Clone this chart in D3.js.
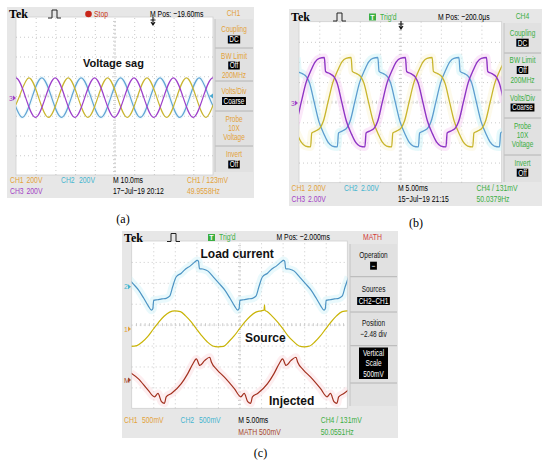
<!DOCTYPE html>
<html><head><meta charset="utf-8">
<script src="https://cdn.jsdelivr.net/npm/d3@7"></script>
<style>body{margin:0;background:#fff}svg{display:block}</style>
</head><body>
<svg id="c" width="550" height="461"></svg>
<script>
// ---------------- DATA (time in ms, amplitude in divisions) ----------------
// Panel (a): three-phase voltage, 10.0 ms/div
const aCh1 = [[-3.5,-1],[1.5,0],[6.5,1],[11.5,0],[16.5,-1],[21.5,0],[26.5,1],[31.5,0],[36.5,-1],[41.5,0],[46.5,1],[51.5,0],[56.5,-1],[61.5,0],[66.5,1],[71.5,0],[76.5,-1],[81.5,0],[86.5,1],[91.5,0],[96.5,-1],[101.5,0],[106.5,1]];
const aCh2 = [[-6.9,1],[-1.9,0],[3.1,-1],[8.1,0],[13.1,1],[18.1,0],[23.1,-1],[28.1,0],[33.1,1],[38.1,0],[43.1,-1],[48.1,0],[53.1,1],[58.1,0],[63.1,-1],[68.1,0],[73.1,1],[78.1,0],[83.1,-1],[88.1,0],[93.1,1],[98.1,0],[103.1,-1]];
const aCh3 = [[-5.1,0],[-0.1,1],[4.9,0],[9.9,-1],[14.9,0],[19.9,1],[24.9,0],[29.9,-1],[34.9,0],[39.9,1],[44.9,0],[49.9,-1],[54.9,0],[59.9,1],[64.9,0],[69.9,-1],[74.9,0],[79.9,1],[84.9,0],[89.9,-1],[94.9,0],[99.9,1],[104.9,0]];

// Panel (b): distorted three-phase, 5.00 ms/div
const bCh3 = [[-1.3,-1.25],[-0.6,-0.95],[0.55,0],[1.7,0.95],[3.0,1.6],[4.0,2.0],[5.0,2.18],[6.25,2.22],[6.55,1.53],[7.6,1.42],[8.7,1.25],[9.4,0.95],[10.55,0],[11.7,-0.95],[13.0,-1.6],[14.0,-2.0],[15.0,-2.18],[16.25,-2.22],[16.55,-1.53],[17.6,-1.42],[18.7,-1.25],[19.4,-0.95],[20.55,0],[21.7,0.95],[23.0,1.6],[24.0,2.0],[25.0,2.18],[26.25,2.22],[26.55,1.53],[27.6,1.42],[28.7,1.25],[29.4,0.95],[30.55,0],[31.7,-0.95],[33.0,-1.6],[34.0,-2.0],[35.0,-2.18],[36.25,-2.22],[36.55,-1.53],[37.6,-1.42],[38.7,-1.25],[39.4,-0.95],[40.55,0],[41.7,0.95],[43.0,1.6],[44.0,2.0],[45.0,2.18],[46.25,2.22],[46.55,1.53],[47.6,1.42],[48.7,1.25],[49.4,0.95],[50.55,0]];
const bCh1 = [[-1.7,-0.95],[-0.4,-1.6],[0.6,-2.0],[1.6,-2.18],[2.85,-2.22],[3.15,-1.53],[4.2,-1.42],[5.3,-1.25],[6.0,-0.95],[7.15,0],[8.3,0.95],[9.6,1.6],[10.6,2.0],[11.6,2.18],[12.85,2.22],[13.15,1.53],[14.2,1.42],[15.3,1.25],[16.0,0.95],[17.15,0],[18.3,-0.95],[19.6,-1.6],[20.6,-2.0],[21.6,-2.18],[22.85,-2.22],[23.15,-1.53],[24.2,-1.42],[25.3,-1.25],[26.0,-0.95],[27.15,0],[28.3,0.95],[29.6,1.6],[30.6,2.0],[31.6,2.18],[32.85,2.22],[33.15,1.53],[34.2,1.42],[35.3,1.25],[36.0,0.95],[37.15,0],[38.3,-0.95],[39.6,-1.6],[40.6,-2.0],[41.6,-2.18],[42.85,-2.22],[43.15,-1.53],[44.2,-1.42],[45.3,-1.25],[46.0,-0.95],[47.15,0],[48.3,0.95],[49.6,1.6],[50.6,2.0]];
const bCh2 = [[-0.55,2.22],[-0.25,1.53],[0.8,1.42],[1.9,1.25],[2.6,0.95],[3.75,0],[4.9,-0.95],[6.2,-1.6],[7.2,-2.0],[8.2,-2.18],[9.45,-2.22],[9.75,-1.53],[10.8,-1.42],[11.9,-1.25],[12.6,-0.95],[13.75,0],[14.9,0.95],[16.2,1.6],[17.2,2.0],[18.2,2.18],[19.45,2.22],[19.75,1.53],[20.8,1.42],[21.9,1.25],[22.6,0.95],[23.75,0],[24.9,-0.95],[26.2,-1.6],[27.2,-2.0],[28.2,-2.18],[29.45,-2.22],[29.75,-1.53],[30.8,-1.42],[31.9,-1.25],[32.6,-0.95],[33.75,0],[34.9,0.95],[36.2,1.6],[37.2,2.0],[38.2,2.18],[39.45,2.22],[39.75,1.53],[40.8,1.42],[41.9,1.25],[42.6,0.95],[43.75,0],[44.9,-0.95],[46.2,-1.6],[47.2,-2.0],[48.2,-2.18],[49.45,-2.22],[49.75,-1.53],[50.8,-1.42]];

// Panel (c): load current (CH2), source (CH1), injected (MATH), 5.00 ms/div
const cCh2 = [[-1.0,0.45],[0.3,0.15],[1.6,-0.16],[2.8,-0.55],[3.8,-0.90],[4.6,-1.12],[4.9,-1.05],[5.1,-0.65],[6.0,-0.62],[7.0,-0.58],[8.0,-0.55],[8.8,-0.45],[9.5,0.00],[10.3,0.47],[11.5,0.65],[12.5,0.85],[13.6,1.00],[14.6,1.18],[15.2,1.26],[15.5,1.22],[15.7,0.87],[16.5,0.85],[17.7,0.75],[19.0,0.45],[20.3,0.15],[21.6,-0.16],[22.8,-0.55],[23.8,-0.90],[24.6,-1.12],[24.9,-1.05],[25.1,-0.65],[26.0,-0.62],[27.0,-0.58],[28.0,-0.55],[28.8,-0.45],[29.5,0.00],[30.3,0.47],[31.5,0.65],[32.5,0.85],[33.6,1.00],[34.6,1.18],[35.2,1.26],[35.5,1.22],[35.7,0.87],[36.5,0.85],[37.7,0.75],[39.0,0.45],[40.3,0.15],[41.6,-0.16],[42.8,-0.55],[43.8,-0.90],[44.6,-1.12],[44.9,-1.05],[45.1,-0.65],[46.0,-0.62],[47.0,-0.58],[48.0,-0.55],[48.8,-0.45],[49.5,0.00],[50.3,0.47]];
const cCh1 = [[-0.3,-0.84],[1.2,-0.80],[2.5,-0.62],[3.8,-0.35],[5,-0.02],[6.2,0.30],[7.5,0.60],[8.8,0.80],[10,0.86],[11.3,0.82],[12.5,0.62],[13.8,0.33],[15,0.0],[16.2,-0.32],[17.5,-0.62],[18.8,-0.82],[20,-0.86],[21.3,-0.84],[22.5,-0.62],[23.8,-0.33],[25,0.0],[26.2,0.32],[27.5,0.60],[28.8,0.80],[30,0.86],[30.7,0.9],[30.8,1.15],[30.9,0.88],[31.3,0.84],[32.5,0.62],[33.8,0.33],[35,0.02],[36.2,-0.32],[37.5,-0.60],[38.8,-0.82],[40,-0.86],[41.3,-0.82],[42.5,-0.62],[43.8,-0.33],[45,0.0],[46.2,0.32],[47.5,0.62],[48.8,0.82],[50,0.86],[50.5,0.86]];
const cMath = [[-0.2,0.35],[1.5,0.08],[3.8,-0.47],[5.3,-0.79],[6.1,-0.63],[6.9,-1.02],[7.6,-1.10],[8.0,-0.79],[9.2,-0.63],[11.5,-0.16],[13.0,0.32],[14.2,0.79],[15.0,1.02],[15.8,0.71],[16.9,0.94],[18.1,1.10],[18.5,0.86],[19.8,0.5],[21.5,0.15],[23.8,-0.40],[25.3,-0.79],[26.1,-0.63],[26.9,-1.02],[27.6,-1.10],[28.0,-0.79],[29.2,-0.63],[31.5,-0.16],[33.0,0.32],[34.2,0.79],[35.0,1.02],[35.8,0.71],[36.9,0.94],[38.1,1.10],[38.5,0.86],[39.8,0.5],[41.5,0.15],[43.8,-0.40],[45.3,-0.79],[46.1,-0.63],[46.9,-1.02],[47.6,-1.10],[48.0,-0.79],[49.2,-0.63],[50.3,-0.45]];

// channel ground positions (divisions)
const aPositions = [-0.08, -0.08, -0.08];
const bPositions = [0, 0, 0];
const cPositions = [1.81, -0.2, -2.66];

// text content
const aMenu = ["Coupling","DC","BW Limit","Off","200MHz","Volts/Div","Coarse","Probe","10X","Voltage","Invert","Off"];
const cMenu = ["Operation","−","Sources","CH2−CH1","Position","−2.48 div","Vertical","Scale","500mV"];
const captions = ["(a)","(b)","(c)"];
const waveLabels = ["Voltage sag","Load current","Source","Injected"];

// ---------------- DRAWING ----------------
const svg = d3.select('#c');
const SF = "'Liberation Sans',Arial,sans-serif";
const SQ = 0.72; // horizontal squeeze for the narrow scope font
const COL = {orange:'#e3a23a', cyan:'#45b5cf', purple:'#a33fc6', green:'#3aae42', red:'#d23a3a', math:'#a8482e'};

function txt(g,x,y,s,o={}){
  const sq = o.sq===undefined ? SQ : o.sq;
  return g.append('text').attr('x',0).attr('y',0).attr('transform',`translate(${x},${y}) scale(${sq},1)`)
    .attr('dominant-baseline','central')
    .attr('font-family',o.ff||SF).attr('font-size',o.fs||9.5).attr('fill',o.c||'#000')
    .attr('text-anchor',o.a||'start').attr('font-weight',o.w||'normal').text(s);
}
function boxed(g,x,y,s,o={}){
  const t = txt(g,x,y,s,Object.assign({c:'#fff',a:'middle'},o));
  const w = t.node().getComputedTextLength()*SQ;
  const h = o.h||8;
  g.insert('rect',()=>t.node()).attr('x',x-w/2-1.5).attr('y',y-h/2).attr('width',w+3).attr('height',h).attr('fill','#000');
  return t;
}
function pulse(g,x,y){
  g.append('path').attr('d',`M${x},${y+4}H${x+4}V${y-4}H${x+9}V${y+4}H${x+13}`).attr('fill','none').attr('stroke','#222').attr('stroke-width',1);
}
function trigArrow(g,x,y){
  g.append('path').attr('d',`M${x},${y-4}V${y+3}M${x-2.5},${y-1}H${x+2.5}M${x-2},${y+1}L${x},${y+4}L${x+2},${y+1}`).attr('stroke','#111').attr('fill','none').attr('stroke-width',1.1);
}
function chMarker(g,x,y,label,color){
  txt(g,x,y,label,{fs:7,c:color,sq:1});
  g.append('path').attr('d',`M${x+4},${y-2.5}L${x+7},${y}L${x+4},${y+2.5}Z`).attr('fill',color);
}

function screen(cfg){
  const g = svg.append('g');
  g.append('rect').attr('x',cfg.sx).attr('y',cfg.sy).attr('width',cfg.sw).attr('height',cfg.sh).attr('fill','#e7e7e7');
  const m = cfg.menu;
  g.append('rect').attr('x',m.x).attr('y',m.y0).attr('width',m.w).attr('height',m.y1-m.y0).attr('fill','#e1e1e1');
  m.seps.forEach(s=>g.append('line').attr('x1',m.x).attr('x2',m.x+m.w).attr('y1',s).attr('y2',s).attr('stroke','#b4b4b4'));
  g.append('line').attr('x1',m.x).attr('x2',m.x).attr('y1',m.y0).attr('y2',m.y1).attr('stroke','#c4c4c4');
  const cx = m.x+m.w/2;
  m.items.forEach(it=>{ if(it.box) boxed(g,cx,it.y,it.t,{fs:9}); else txt(g,cx,it.y,it.t,{a:'middle',c:m.color,fs:9}); });
  const [x0,x1,y0,y1] = cfg.plot;
  g.append('rect').attr('x',x0).attr('y',y0).attr('width',x1-x0).attr('height',y1-y0).attr('fill','#fff').attr('stroke','#cfcfcf').attr('stroke-width',0.8);
  const x = d3.scaleLinear().domain(cfg.xDomain).range([x0,x1]);
  const y = d3.scaleLinear().domain([-4,4]).range([y1,y0]);
  const step = (cfg.xDomain[1]-cfg.xDomain[0])/10;
  const gridStyle = s=>{ s.select('.domain').remove(); s.selectAll('line').attr('stroke','#bdbdbd').attr('stroke-dasharray','1,3').attr('stroke-width',0.8); };
  g.append('g').attr('transform',`translate(0,${y1})`)
    .call(d3.axisBottom(x).tickValues(d3.range(1,10).map(i=>cfg.xDomain[0]+i*step)).tickSize(-(y1-y0)).tickFormat(''))
    .call(gridStyle);
  g.append('g').attr('transform',`translate(${x0},0)`)
    .call(d3.axisLeft(y).tickValues(d3.range(-3,4)).tickSize(-(x1-x0)).tickFormat(''))
    .call(gridStyle);
  const minorX = d3.range(0,50).map(i=>cfg.xDomain[0]+i*step/5).filter(v=>v>cfg.xDomain[0]);
  const minorY = d3.range(-19,20).map(i=>i/5);
  g.append('g').attr('transform',`translate(0,${y(0)+1.5})`).call(d3.axisBottom(x).tickValues(minorX).tickSize(3).tickFormat(''))
    .call(s=>{s.select('.domain').remove(); s.selectAll('line').attr('transform','translate(0,-3)').attr('stroke','#cdcdcd');});
  g.append('g').attr('transform',`translate(${x((cfg.xDomain[0]+cfg.xDomain[1])/2)-1.5},0)`).call(d3.axisRight(y).tickValues(minorY).tickSize(3).tickFormat(''))
    .call(s=>{s.select('.domain').remove(); s.selectAll('line').attr('stroke','#cdcdcd');});
  const cid = 'clip'+cfg.id;
  svg.append('clipPath').attr('id',cid).append('rect').attr('x',x0).attr('y',y0).attr('width',x1-x0).attr('height',y1-y0);
  const tg = g.append('g').attr('clip-path',`url(#${cid})`);
  cfg.traces.forEach(tr=>{
    const line = d3.line().x(d=>x(d[0])).y(d=>y(d[1]+tr.pos)).curve(tr.curve);
    if(tr.halo) tg.append('path').datum(tr.data).attr('d',line).attr('fill','none').attr('stroke',tr.halo).attr('stroke-width',tr.haloW||8).attr('stroke-linejoin','round').attr('opacity',0.5);
  });
  cfg.traces.forEach(tr=>{
    const line = d3.line().x(d=>x(d[0])).y(d=>y(d[1]+tr.pos)).curve(tr.curve);
    tg.append('path').datum(tr.data).attr('d',line).attr('fill','none').attr('stroke',tr.color).attr('stroke-width',tr.w||1.3).attr('stroke-linejoin','round');
  });
  txt(g,cfg.hdr.tekX,cfg.hdr.y,'Tek',{ff:"'Liberation Serif','Times New Roman',serif",fs:12,w:'bold',sq:1});
  pulse(g,cfg.hdr.pulseX,cfg.hdr.y);
  return {g,x,y};
}

// ---- panel (a)
const A = screen({id:'a', sx:7, sy:7, sw:247, sh:191, plot:[16,213,17,175], xDomain:[0,100],
  hdr:{y:14, tekX:9, pulseX:48},
  menu:{x:215,w:38,y0:19,y1:172,color:COL.orange,seps:[48,81,111,146],
    items:[{t:aMenu[0],y:29},{t:aMenu[1],y:39.5,box:1},{t:aMenu[2],y:56},{t:aMenu[3],y:65.5,box:1},{t:aMenu[4],y:75},{t:aMenu[5],y:91.5},{t:aMenu[6],y:101,box:1},{t:aMenu[7],y:119},{t:aMenu[8],y:128},{t:aMenu[9],y:137},{t:aMenu[10],y:154.5},{t:aMenu[11],y:164.5,box:1}]},
  traces:[
    {data:aCh2,pos:aPositions[1],color:'#62a5d4',curve:d3.curveNatural,w:1.2,halo:'#e3f6fb',haloW:4},
    {data:aCh1,pos:aPositions[0],color:'#c9b530',curve:d3.curveNatural,w:1.2},
    {data:aCh3,pos:aPositions[2],color:'#9d3fca',curve:d3.curveNatural,w:1.2}
  ]});
{
  const g=A.g;
  g.append('circle').attr('cx',88.5).attr('cy',14).attr('r',3.3).attr('fill','#c8261a');
  txt(g,94,14,'Stop',{c:'#c8361a'});
  txt(g,150,14,'M Pos: −19.60ms');
  txt(g,233.5,13,'CH1',{a:'middle',c:COL.orange});
  trigArrow(g,153,21);
  chMarker(g,9,98,'3',COL.purple);
  g.append('path').attr('d','M213,93.5L209.5,96L213,98.5Z').attr('fill','#4aa8d0');
  txt(g,83,63,waveLabels[0],{ff:"'Liberation Sans',Arial,sans-serif",fs:11,w:'bold',c:'#111',sq:1});
  txt(g,10,180,'CH1',{c:COL.orange}); txt(g,26.5,180,'200V',{c:COL.orange});
  txt(g,61,180,'CH2',{c:COL.cyan}); txt(g,79,180,'200V',{c:COL.cyan});
  txt(g,113,180,'M 10.0ms');
  txt(g,187,180,'CH1 / 123mV',{c:COL.orange});
  txt(g,10,191,'CH3',{c:COL.purple}); txt(g,26.5,191,'200V',{c:COL.purple});
  txt(g,113,191,'17−Jul−19 20:12');
  txt(g,187,191,'49.9558Hz',{c:COL.orange});
}

// ---- panel (b)
const B = screen({id:'b', sx:289, sy:9, sw:253, sh:197, plot:[299,501.7,21.7,182.7], xDomain:[0,50],
  hdr:{y:17, tekX:291, pulseX:333},
  menu:{x:504,w:37,y0:23,y1:182,color:COL.green,seps:[53,90,118,155],
    items:[{t:aMenu[0],y:33.3},{t:aMenu[1],y:42.7,box:1},{t:aMenu[2],y:60.5},{t:aMenu[3],y:70,box:1},{t:aMenu[4],y:80},{t:aMenu[5],y:98},{t:aMenu[6],y:107.5,box:1},{t:aMenu[7],y:126},{t:aMenu[8],y:135},{t:aMenu[9],y:144},{t:aMenu[10],y:163},{t:aMenu[11],y:172.7,box:1}]},
  traces:[
    {data:bCh2,pos:bPositions[1],color:'#5c9dcf',curve:d3.curveMonotoneX,halo:'#cdf3f8',w:1.3},
    {data:bCh1,pos:bPositions[0],color:'#c8b52c',curve:d3.curveMonotoneX,halo:'#fbf6d8',w:1.3},
    {data:bCh3,pos:bPositions[2],color:'#8e34c4',curve:d3.curveMonotoneX,halo:'#f7d2f3',w:1.4}
  ]});
{
  const g=B.g;
  g.append('rect').attr('x',369).attr('y',13.5).attr('width',7).attr('height',7).attr('fill','#3aae42');
  txt(g,372.5,17,'T',{a:'middle',c:'#fff',fs:7,w:'bold',sq:1});
  txt(g,380,17,"Trig'd",{c:COL.green});
  txt(g,438,17,'M Pos: −200.0µs');
  txt(g,522.5,16,'CH4',{a:'middle',c:COL.green});
  trigArrow(g,401,25);
  chMarker(g,291,103,'3',COL.purple);
  txt(g,291.5,188.5,'CH1',{c:COL.orange}); txt(g,308,188.5,'2.00V',{c:COL.orange});
  txt(g,344,188.5,'CH2',{c:COL.cyan}); txt(g,361,188.5,'2.00V',{c:COL.cyan});
  txt(g,398,188.5,'M 5.00ms');
  txt(g,476.5,188.5,'CH4 / 131mV',{c:COL.green});
  txt(g,291.5,199.5,'CH3',{c:COL.purple}); txt(g,308,199.5,'2.00V',{c:COL.purple});
  txt(g,398,199.5,'15−Jul−19 21:15');
  txt(g,476.5,199.5,'50.0379Hz',{c:COL.green});
}

// ---- panel (c)
const C = screen({id:'c', sx:122, sy:231, sw:276, sh:207, plot:[131.7,347.3,241,408.3], xDomain:[0,50],
  hdr:{y:237.5, tekX:124, pulseX:167},
  menu:{x:350,w:47,y0:244,y1:406,color:'#111',seps:[276.7,312,345.7,383],
    items:[{t:cMenu[0],y:255.2},{t:cMenu[1],y:265.7,box:1},{t:cMenu[2],y:289},{t:cMenu[3],y:301,box:1},{t:cMenu[4],y:323.5},{t:cMenu[5],y:334}]},
  traces:[
    {data:cCh2,pos:cPositions[0],color:'#4c93c3',curve:d3.curveMonotoneX,halo:'#d3f4fa',w:1.2},
    {data:cCh1,pos:cPositions[1],color:'#c9b406',curve:d3.curveMonotoneX,w:1.2},
    {data:cMath,pos:cPositions[2],color:'#a2301e',curve:d3.curveMonotoneX,halo:'#fbdde2',w:1.2}
  ]});
{
  const g=C.g;
  g.append('rect').attr('x',359).attr('y',347.5).attr('width',29).attr('height',31.5).attr('fill','#000');
  txt(g,373.5,352.7,cMenu[6],{a:'middle',c:'#fff',fs:9});
  txt(g,373.5,363.5,cMenu[7],{a:'middle',c:'#fff',fs:9});
  txt(g,373.5,374,cMenu[8],{a:'middle',c:'#fff',fs:9});
  g.append('rect').attr('x',208).attr('y',234).attr('width',7).attr('height',7).attr('fill','#3aae42');
  txt(g,211.5,237.5,'T',{a:'middle',c:'#fff',fs:7,w:'bold',sq:1});
  txt(g,219,237.5,"Trig'd",{c:COL.green});
  txt(g,276.5,237.5,'M Pos: −2.000ms');
  txt(g,372.5,237.5,'MATH',{a:'middle',c:COL.red});
  chMarker(g,124,286.7,'2',COL.cyan);
  chMarker(g,124,329,'1',COL.orange);
  chMarker(g,124,380,'M',COL.math);
  const LF = "'Liberation Sans',Arial,sans-serif";
  txt(g,200.5,253.5,waveLabels[1],{ff:LF,fs:12,w:'bold',c:'#111',sq:1});
  txt(g,245,337.5,waveLabels[2],{ff:LF,fs:12,w:'bold',c:'#111',sq:1});
  txt(g,269,400.5,waveLabels[3],{ff:LF,fs:12,w:'bold',c:'#111',sq:1});
  txt(g,124,420.5,'CH1',{c:COL.orange}); txt(g,142,420.5,'500mV',{c:COL.orange});
  txt(g,180.5,420.5,'CH2',{c:COL.cyan}); txt(g,199,420.5,'500mV',{c:COL.cyan});
  txt(g,238.3,420.5,'M 5.00ms');
  txt(g,320.7,420.5,'CH4 / 131mV',{c:COL.green});
  txt(g,238.3,432.5,'MATH 500mV',{c:COL.math});
  txt(g,320.7,432.5,'50.0551Hz',{c:COL.green});
}

// captions
const capFont = "'Liberation Serif','Times New Roman',serif";
txt(svg,123,219,captions[0],{ff:capFont,fs:12,a:'middle',sq:1});
txt(svg,416,223,captions[1],{ff:capFont,fs:12,a:'middle',sq:1});
txt(svg,260.5,453,captions[2],{ff:capFont,fs:12,a:'middle',sq:1});
</script>
</body></html>
